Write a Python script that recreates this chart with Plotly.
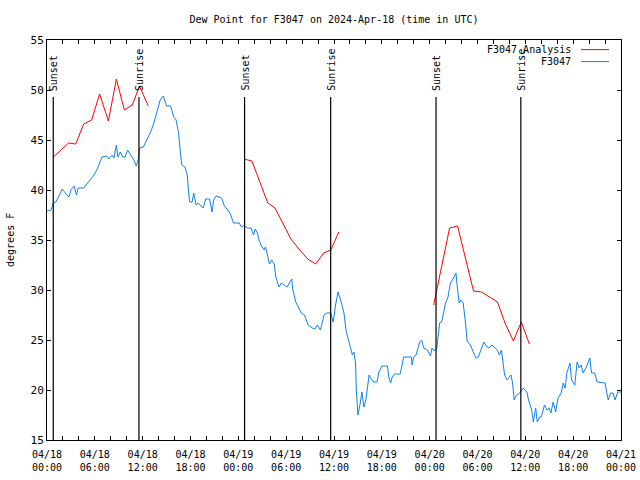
import pandas as pd
import plotly.graph_objects as go

BASE = pd.Timestamp("2024-04-18 00:00")

# Observed dew point (hours since 04/18 00:00 UTC, degrees F)
obs_hours = [0.0, 0.5, 0.8, 1.1, 1.5, 1.9, 2.3, 2.75, 3.0, 3.4, 3.7, 3.9, 4.6, 4.8, 5.5, 5.9, 6.3, 6.9,
             7.5, 7.75, 8.2, 8.4, 8.7, 8.9, 9.2, 9.5, 9.8, 10.1, 10.5, 10.9, 11.2, 11.5, 11.6, 12.1,
             12.5, 13.0, 13.4, 13.8, 14.2, 14.6, 15.0, 15.5, 15.9, 16.2, 16.5, 16.7, 16.9, 17.3,
             17.6, 17.75, 17.9, 18.2, 18.4, 18.7, 19.0, 19.3, 19.6, 19.9, 20.4, 20.7, 20.9, 21.2,
             21.9, 22.25, 22.7, 23.0, 23.4, 24.1, 24.4, 24.75, 25.1, 25.6, 25.9, 26.1, 26.4, 26.6,
             26.9, 27.25, 27.4, 27.6, 27.9, 28.2, 28.5, 28.7, 29.1, 29.4, 29.75, 30.1, 30.4, 30.7,
             30.8, 31.2, 31.6, 31.9, 32.3, 32.75, 33.3, 33.6, 33.9, 34.3, 34.75, 35.1, 35.6, 35.9,
             36.2, 36.5, 36.9, 37.25, 37.5, 37.75, 38.0, 38.3, 38.5, 38.7, 38.8, 39.0, 39.3, 39.5,
             39.75, 40.0, 40.4, 40.6, 41.0, 41.4, 41.6, 42.0, 42.7, 42.9, 43.1, 43.3, 43.6, 44.3,
             44.75, 45.2, 45.7, 45.8, 46.0, 46.3, 46.75, 47.0, 47.25, 47.7, 48.1, 48.3, 48.6, 48.9,
             49.25, 49.5, 50.0, 50.3, 50.6, 51.0, 51.3, 51.4, 51.7, 51.9, 52.2, 52.5, 52.7, 53.1,
             53.5, 53.8, 54.1, 54.5, 54.8, 55.2, 55.5, 55.8, 56.1, 56.5, 56.75, 57.0, 57.4, 57.7,
             58.2, 58.4, 58.6, 58.9, 59.3, 59.75, 60.2, 60.4, 60.8, 61.0, 61.3, 61.5, 61.8, 62.0,
             62.4, 62.7, 63.0, 63.2, 63.5, 63.8, 64.1, 64.5, 64.75, 65.0, 65.2, 65.6, 65.8, 66.2,
             66.5, 66.75, 67.0, 67.25, 67.6, 67.9, 68.1, 68.3, 68.7, 69.0, 70.0, 70.2, 70.4, 70.7,
             71.0, 71.25, 71.4, 71.6, 72.0]
obs_values = [37.9, 38.0, 38.7, 38.8, 39.4, 40.1, 39.7, 39.3, 40.0, 40.4, 39.5, 40.2, 40.2, 40.4, 41.0,
              41.5, 42.1, 43.3, 43.4, 43.1, 43.5, 43.2, 44.5, 43.3, 43.8, 43.3, 43.3, 44.0, 43.5, 43.0,
              42.4, 43.2, 44.2, 44.3, 45.0, 45.8, 46.7, 48.0, 49.0, 49.4, 48.4, 48.4, 47.3, 47.0, 45.7,
              44.0, 42.5, 42.3, 41.5, 39.8, 38.8, 38.8, 39.7, 38.5, 38.7, 38.4, 38.2, 39.1, 39.1, 37.8,
              39.0, 39.4, 39.2, 38.4, 38.0, 37.6, 36.7, 36.7, 36.3, 36.5, 36.2, 36.2, 35.5, 36.1, 35.7,
              35.0, 34.4, 34.0, 34.3, 33.7, 32.6, 33.0, 32.6, 31.3, 30.3, 30.7, 30.5, 30.3, 30.7, 31.1,
              30.2, 28.8, 28.2, 27.7, 27.5, 26.5, 26.2, 26.1, 26.5, 26.0, 27.5, 27.7, 27.7, 26.8, 28.5,
              29.8, 28.8, 27.7, 26.0, 25.3, 24.5, 23.5, 23.8, 22.7, 20.0, 17.5, 18.7, 19.8, 18.3, 19.0,
              21.5, 21.2, 20.8, 20.8, 21.7, 22.4, 22.4, 21.2, 20.7, 21.3, 21.6, 21.6, 23.3, 23.3, 23.3,
              22.5, 23.3, 23.5, 24.8, 25.0, 24.2, 24.0, 23.4, 24.2, 23.9, 24.2, 26.7, 26.8, 28.7, 29.3,
              30.7, 31.2, 31.7, 30.8, 28.7, 29.0, 28.7, 26.7, 24.9, 24.5, 23.7, 23.2, 23.3, 24.2, 24.8,
              24.3, 24.2, 24.5, 24.3, 24.0, 23.5, 24.0, 21.5, 21.0, 21.5, 20.7, 19.0, 19.5, 19.7, 20.2,
              19.8, 19.0, 18.0, 16.8, 18.2, 16.8, 17.3, 17.3, 18.5, 18.0, 18.2, 17.7, 18.8, 17.8, 19.2,
              19.7, 20.7, 20.2, 21.7, 22.7, 21.0, 20.5, 22.8, 22.2, 22.5, 21.7, 22.2, 22.8, 23.2, 21.7,
              21.7, 20.8, 20.7, 19.8, 19.0, 19.7, 19.7, 19.0, 19.3, 19.8, 19.8]

# Analysis dew point, three separate runs (None breaks the line)
ana_hours = [0.8, 1.7, 2.7, 3.6, 4.6, 5.6, 6.6, 7.7, 8.7, 9.7, 10.7, 11.6, 12.7, None,
             24.7, 25.7, 26.7, 27.7, 28.6, 29.6, 30.6, 31.6, 32.7, 33.7, 34.7, 35.6, 36.6, None,
             48.5, 49.5, 50.5, 51.5, 52.5, 53.5, 54.5, 55.5, 56.5, 57.5, 58.5, 59.5, 60.5]
ana_values = [43.3, 44.0, 44.7, 44.6, 46.6, 47.0, 49.6, 46.9, 51.1, 48.0, 48.5, 50.4, 48.4, None,
              43.1, 42.9, 40.8, 38.7, 38.2, 36.7, 35.1, 34.1, 33.1, 32.6, 33.7, 34.0, 35.8, None,
              28.5, 32.4, 36.2, 36.4, 33.1, 29.9, 29.8, 29.3, 28.8, 26.6, 24.9, 26.8, 24.6]

# Sun events
event_times = ["2024-04-18 00:47", "2024-04-18 11:32", "2024-04-19 00:47",
               "2024-04-19 11:35", "2024-04-20 00:48", "2024-04-20 11:26"]
event_labels = ["Sunset", "Sunrise", "Sunset", "Sunrise", "Sunset", "Sunrise"]

tick_times = pd.date_range("2024-04-18 00:00", "2024-04-21 00:00", freq="6h")
tick_labels = [t.strftime("%m/%d") + "<br>" + t.strftime("%H:%M") for t in tick_times]

FONT = "DejaVu Sans Mono"
RED = "#ff0000"
BLUE = "#1080f0"

obs_x = [BASE + pd.Timedelta(hours=h) for h in obs_hours]
ana_x = [None if h is None else BASE + pd.Timedelta(hours=h) for h in ana_hours]

fig = go.Figure()
fig.add_trace(go.Scatter(x=ana_x, y=ana_values, mode="lines", name="F3047 Analysis",
                         line=dict(color=RED, width=1), connectgaps=False))
fig.add_trace(go.Scatter(x=obs_x, y=obs_values, mode="lines", name="F3047",
                         line=dict(color=BLUE, width=1)))

for t, lab in zip(event_times, event_labels):
    fig.add_shape(type="line", xref="x", yref="y", x0=t, x1=t, y0=15, y1=49.3,
                  line=dict(color="black", width=1.2))
    fig.add_annotation(x=t, y=49.7, xref="x", yref="y", text=lab, textangle=-90,
                       showarrow=False, xanchor="center", yanchor="bottom",
                       font=dict(family=FONT, size=10, color="black"))

# gnuplot-style legend (text, then line sample)
legend_rows = [("F3047 Analysis", RED, 0.976), ("F3047", BLUE, 0.946)]
for txt, col, yp in legend_rows:
    fig.add_annotation(x=0.9164, y=yp, xref="paper", yref="paper", text=txt, showarrow=False,
                       xanchor="right", yanchor="middle",
                       font=dict(family=FONT, size=10, color="black"))
    fig.add_shape(type="line", xref="paper", yref="paper", x0=0.9303, x1=0.9791, y0=yp, y1=yp,
                  line=dict(color=col, width=1))

fig.add_annotation(x=-0.0645, y=0.5, xref="paper", yref="paper", text="degrees F",
                   textangle=-90, showarrow=False, xanchor="center", yanchor="middle",
                   font=dict(family=FONT, size=10, color="black"))

fig.update_layout(
    width=640, height=480,
    margin=dict(l=47, r=19, t=40, b=40, autoexpand=False),
    paper_bgcolor="white", plot_bgcolor="white",
    showlegend=False,
    font=dict(family=FONT, size=10, color="black"),
    title=dict(text="Dew Point for F3047 on 2024-Apr-18 (time in UTC)",
               x=0.5, xref="paper", xanchor="center",
               y=1 - 19 / 480, yref="container", yanchor="middle",
               font=dict(family=FONT, size=10, color="black")),
)
fig.update_xaxes(
    type="date", range=["2024-04-18 00:00", "2024-04-21 00:00"],
    tickmode="array", tickvals=tick_times, ticktext=tick_labels,
    ticks="inside", ticklen=4, tickcolor="black", tickwidth=1,
    minor=dict(ticks="inside", dtick=2 * 3600 * 1000, tick0="2024-04-18", ticklen=4,
               tickcolor="black", showgrid=False),
    showline=True, linecolor="black", linewidth=1, mirror="ticks",
    showgrid=False, zeroline=False, tickfont=dict(family=FONT, size=10),
    automargin=False, ticklabelstandoff=5,
)
fig.update_yaxes(
    range=[15, 55], dtick=5, tick0=15,
    ticks="inside", ticklen=4, tickcolor="black",
    showline=True, linecolor="black", linewidth=1, mirror="ticks",
    showgrid=False, zeroline=False, tickfont=dict(family=FONT, size=11),
    automargin=False,
)

fig.write_html("out.html")
